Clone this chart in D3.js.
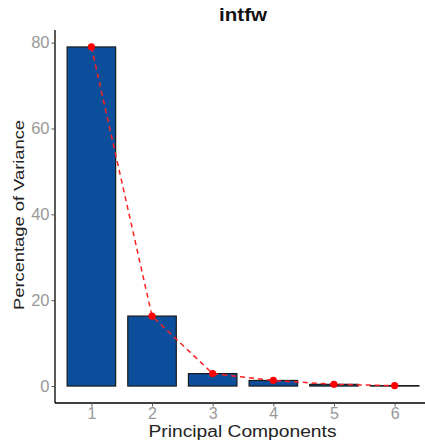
<!DOCTYPE html>
<html><head><meta charset="utf-8">
<script src="https://cdn.jsdelivr.net/npm/d3@7"></script>
<style>body{margin:0;background:#fff}svg{display:block}</style>
</head><body>
<script>
const categories = ["1","2","3","4","5","6"];
const variance = [79.0, 16.3, 2.9, 1.3, 0.4, 0.1];
const yTicks = [0, 20, 40, 60, 80];
const title = "intfw";
const xLabel = "Principal Components";
const yLabel = "Percentage of Variance";

(function(){
const W = 425, H = 446;
const pL = 55, pR = 431, pT = 30, pB = 403;
const FF = "Liberation Sans, Arial, sans-serif";
const svg = d3.select("body").append("svg").attr("width", W).attr("height", H);

const step = (pR - pL) / (categories.length - 1 + 1.2);
const x = d3.scalePoint().domain(categories).range([pL + 0.6*step, pR - 0.6*step]);
const y = d3.scaleLinear().domain([-3.95, 82.95]).range([pB, pT]);
const bw = step * 0.8;

svg.append("g").selectAll("rect").data(variance).join("rect")
  .attr("x", (d,i) => x(categories[i]) - bw/2)
  .attr("y", d => y(d))
  .attr("width", bw)
  .attr("height", d => y(0) - y(d))
  .attr("fill", "#0b4f9c").attr("stroke", "#1a1a1a").attr("stroke-width", 1.2);

const line = d3.line().x((d,i) => x(categories[i])).y(d => y(d));
svg.append("path").datum(variance).attr("d", line)
  .attr("fill", "none").attr("stroke", "#ff2020").attr("stroke-width", 1.5)
  .attr("stroke-dasharray", "5,4");
svg.append("g").selectAll("circle").data(variance).join("circle")
  .attr("cx", (d,i) => x(categories[i])).attr("cy", d => y(d)).attr("r", 3.6)
  .attr("fill", "#ff0000");

const yAxis = svg.append("g").attr("transform", `translate(${pL},0)`)
  .call(d3.axisLeft(y).tickValues(yTicks).tickSize(3.5).tickPadding(2));
const xAxis = svg.append("g").attr("transform", `translate(0,${pB})`)
  .call(d3.axisBottom(x).tickSize(3.5).tickPadding(1));
[yAxis, xAxis].forEach(a => {
  a.select(".domain").attr("stroke", "#000").attr("stroke-width", 1.3);
  a.selectAll(".tick line").attr("stroke", "#555");
  a.selectAll(".tick text").attr("fill", "#999").attr("font-family", FF);
});
yAxis.selectAll(".tick text").attr("font-size", 16.5);
xAxis.selectAll(".tick text").attr("font-size", 16);
yAxis.select(".domain").attr("d", `M0,${pT}V${pB}`);
xAxis.select(".domain").attr("d", `M${pL},0H${pR}`);

svg.append("text").attr("x", 243).attr("y", 20.5).attr("text-anchor", "middle")
  .attr("font-family", FF).attr("font-weight", "bold")
  .attr("font-size", 18.5).attr("fill", "#111")
  .attr("textLength", 48).attr("lengthAdjust", "spacingAndGlyphs").text(title);
svg.append("text").attr("x", 242.5).attr("y", 436.5).attr("text-anchor", "middle")
  .attr("font-family", FF)
  .attr("font-size", 15.8).attr("fill", "#222")
  .attr("textLength", 188).attr("lengthAdjust", "spacingAndGlyphs").text(xLabel);
svg.append("text").attr("transform", `translate(23.5,215) rotate(-90)`)
  .attr("text-anchor", "middle")
  .attr("font-family", FF)
  .attr("font-size", 15.5).attr("fill", "#222")
  .attr("textLength", 190).attr("lengthAdjust", "spacingAndGlyphs").text(yLabel);
})();
</script>
</body></html>
